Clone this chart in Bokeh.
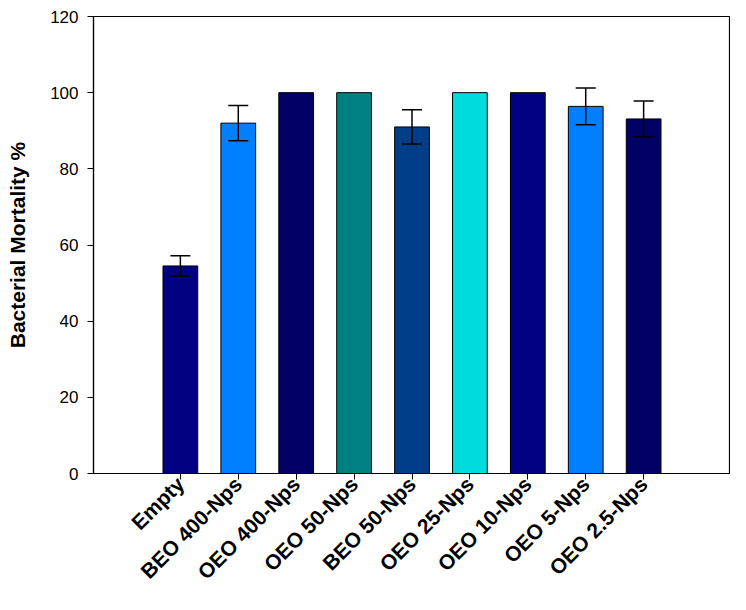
from bokeh.plotting import figure
from bokeh.models import ColumnDataSource, Whisker, FactorRange, FixedTicker
from bokeh.embed import file_html
from bokeh.resources import INLINE
import math

categories = ["Empty", "BEO 400-Nps", "OEO 400-Nps", "OEO 50-Nps", "BEO 50-Nps",
              "OEO 25-Nps", "OEO 10-Nps", "OEO 5-Nps", "OEO 2.5-Nps"]
mortality = [54.5, 92.0, 100.0, 100.0, 91.0, 100.0, 100.0, 96.4, 93.1]
errors = [2.7, 4.6, 0.0, 0.0, 4.5, 0.0, 0.0, 4.8, 4.7]
colors = ["#000080", "#0080FF", "#000066", "#008080", "#003F87",
          "#00DCDC", "#000080", "#0080FF", "#000066"]
y_ticks = [0, 20, 40, 60, 80, 100, 120]

upper = [m + e for m, e in zip(mortality, errors)]
lower = [m - e for m, e in zip(mortality, errors)]
src = ColumnDataSource(dict(cat=categories, val=mortality, col=colors))
err_cats = [c for c, e in zip(categories, errors) if e > 0]
err_src = ColumnDataSource(dict(
    cat=err_cats,
    upper=[u for u, e in zip(upper, errors) if e > 0],
    lower=[l for l, e in zip(lower, errors) if e > 0],
))

FONT = "Liberation Sans"

p = figure(
    x_range=FactorRange(*categories, range_padding=1.0, range_padding_units="absolute"),
    y_range=(0, 120),
    width=730, height=594,
    output_backend="svg", toolbar_location=None,
    min_border_left=93, min_border_right=0, min_border_top=16, min_border_bottom=114,
)
p.vbar(x="cat", top="val", width=0.6, source=src, fill_color="col",
       line_color="black", line_width=1)

w = Whisker(source=err_src, base="cat", upper="upper", lower="lower",
            line_color="black", line_width=1.5, level="overlay")
w.upper_head.size = 20
w.lower_head.size = 20
w.upper_head.line_width = 1.5
w.lower_head.line_width = 1.5
p.add_layout(w)

p.grid.visible = False
p.outline_line_color = "black"
p.outline_line_width = 1.2
p.background_fill_color = "white"
p.border_fill_color = "white"

p.yaxis.ticker = FixedTicker(ticks=y_ticks)
p.yaxis.axis_label = "Bacterial Mortality %"
p.yaxis.axis_label_text_font = FONT
p.yaxis.axis_label_text_font_style = "bold"
p.yaxis.axis_label_text_font_size = "21px"
p.yaxis.axis_label_text_color = "black"
p.yaxis.axis_label_standoff = 18
p.yaxis.major_label_text_font = FONT
p.yaxis.major_label_text_font_size = "17px"
p.yaxis.major_label_text_color = "black"
p.yaxis.minor_tick_line_color = None
p.yaxis.major_label_standoff = 9

p.xaxis.major_label_orientation = math.pi / 4
p.xaxis.major_label_text_font = FONT
p.xaxis.major_label_text_font_style = "bold"
p.xaxis.major_label_text_font_size = "21px"
p.xaxis.major_label_text_color = "black"
p.xaxis.major_label_standoff = 1

for ax in (p.xaxis, p.yaxis):
    ax.axis_line_color = "black"
    ax.axis_line_width = 1.2
    ax.major_tick_line_color = "black"
    ax.major_tick_in = 0
    ax.major_tick_out = 6

open("out.html", "w").write(file_html(p, INLINE))
